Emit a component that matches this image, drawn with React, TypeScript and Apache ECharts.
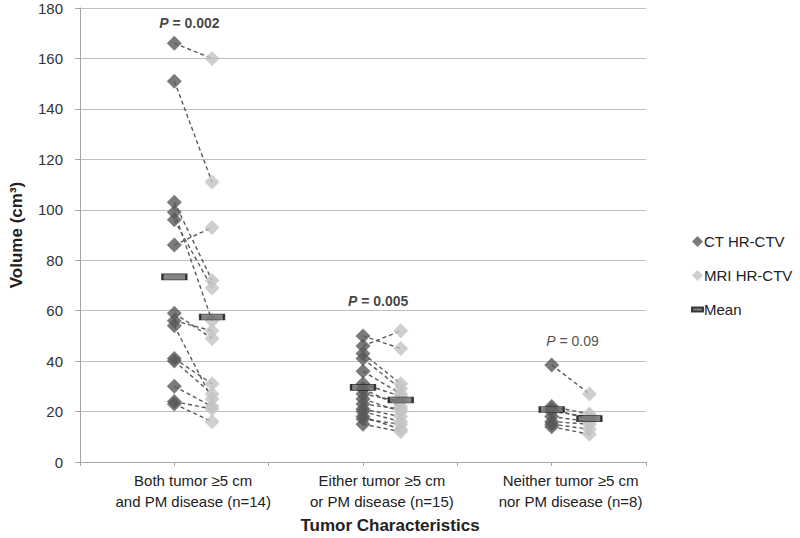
import React, { useEffect, useRef } from "react";
import * as echarts from "echarts";

// ---- data ----
const categories = [
  "Both tumor ≥5 cm\nand PM disease (n=14)",
  "Either tumor ≥5 cm\nor PM disease (n=15)",
  "Neither tumor ≥5 cm\nnor PM disease (n=8)",
];
const ctGroup1 = [166, 151, 103, 99, 96, 86, 59, 56, 54, 41, 40, 30, 24, 23];
const mriGroup1 = [160, 111, 72, 56, 69, 93, 49, 52, 25, 31, 27, 22, 21, 16];
const ctGroup2 = [50, 46, 43, 41, 36, 31, 29, 27, 25, 23, 21, 20, 18, 17, 15];
const mriGroup2 = [45, 52, 31, 29, 27, 26, 22, 24, 20, 21, 18, 16, 13, 15, 12];
const ctGroup3 = [38.5, 22, 21, 20, 18, 16, 15, 14];
const mriGroup3 = [27, 19, 17, 18, 16, 15, 13, 11];
const ctMeans = [73.4, 29.6, 20.8];
const mriMeans = [57.5, 24.6, 17.2];
const pValues = ["0.002", "0.005", "0.09"];
const pBold = [true, true, false];
const pLabelY = [174, 64, 48];
const yTicks = { min: 0, max: 180, interval: 20 };

const FONT = "Liberation Sans, Arial, sans-serif";
const groupX = [1, 3, 5];
const mriShift = 0.4;
const labelShift = 0.2;
const pShift = [0.16, 0.16, 0.22];

export default function App() {
  const ref = useRef<HTMLDivElement>(null);
  useEffect(() => {
    if (!ref.current) return;
    const chart = echarts.init(ref.current, null, { renderer: "svg" });
    const ct = [ctGroup1, ctGroup2, ctGroup3];
    const mri = [mriGroup1, mriGroup2, mriGroup3];
    const ctData: number[][] = [];
    const mriData: number[][] = [];
    const pairs: any[] = [];
    ct.forEach((arr, g) => {
      arr.forEach((v, i) => {
        const m = mri[g][i];
        ctData.push([groupX[g], v]);
        mriData.push([groupX[g] + mriShift, m]);
        pairs.push({ coords: [[groupX[g], v], [groupX[g] + mriShift, m]] });
      });
    });
    const meanData: number[][] = [];
    groupX.forEach((x, g) => {
      meanData.push([x, ctMeans[g]]);
      meanData.push([x + mriShift, mriMeans[g]]);
    });
    const pData = groupX.map((x, g) => ({
      value: [x + pShift[g], pLabelY[g]],
      label: {
        show: true,
        position: "inside",
        formatter: pBold[g] ? `{bi|P}{b| = ${pValues[g]}}` : `{i|P}{n| = ${pValues[g]}}`,
        rich: {
          bi: { fontFamily: FONT, fontSize: 14, fontWeight: "bold", fontStyle: "italic", color: "#111" },
          b: { fontFamily: FONT, fontSize: 14, fontWeight: "bold", color: "#111" },
          i: { fontFamily: FONT, fontSize: 14, fontStyle: "italic", color: "#222" },
          n: { fontFamily: FONT, fontSize: 14, color: "#222" },
        },
      },
    }));
    const labelPositions = groupX.map((x) => x + labelShift);

    chart.setOption({
      animation: false,
      backgroundColor: "#fff",
      textStyle: { fontFamily: FONT },
      grid: { left: 77, right: 154, top: 8, bottom: 76, containLabel: false },
      legend: {
        orient: "vertical",
        left: 686,
        top: 229,
        itemGap: 19,
        itemWidth: 11,
        itemHeight: 11,
        textStyle: { fontFamily: FONT, fontSize: 15, color: "#222", padding: [0, 0, 0, -4] },
        data: [
          { name: "CT HR-CTV", icon: "diamond" },
          { name: "MRI HR-CTV", icon: "diamond" },
          { name: "Mean", icon: "path://M0,3 L14,3 L14,8 L0,8 Z" },
        ],
      },
      xAxis: [
        {
          type: "value",
          min: 0,
          max: 6,
          interval: 1,
          position: "bottom",
          axisLine: { show: true, onZero: false, lineStyle: { color: "#a6a6a6", width: 1 } },
          axisTick: { show: true, length: 4, lineStyle: { color: "#a6a6a6" } },
          axisLabel: { show: false },
          splitLine: { show: false },
        },
        {
          type: "value",
          min: 0,
          max: 6,
          interval: 0.2,
          position: "bottom",
          axisLine: { show: false },
          axisTick: { show: false },
          splitLine: { show: false },
          axisLabel: {
            show: true,
            interval: 0,
            margin: 8,
            fontFamily: FONT,
            fontSize: 15,
            lineHeight: 21,
            color: "#222",
            hideOverlap: false,
            formatter: (v: number) => {
              const idx = labelPositions.findIndex((p) => Math.abs(p - v) < 1e-6);
              return idx >= 0 ? categories[idx] : "";
            },
          },
        },
      ],
      yAxis: {
        type: "value",
        min: yTicks.min,
        max: yTicks.max,
        interval: yTicks.interval,
        name: "Volume (cm³)",
        nameLocation: "middle",
        nameGap: 55,
        nameRotate: 90,
        nameTextStyle: { fontFamily: FONT, fontSize: 17, fontWeight: "bold", color: "#222" },
        axisLine: { show: true, lineStyle: { color: "#a6a6a6", width: 1 } },
        axisTick: { show: true, length: 5, lineStyle: { color: "#a6a6a6" } },
        axisLabel: { fontFamily: FONT, fontSize: 15, color: "#333", margin: 17 },
        splitLine: { show: true, lineStyle: { color: "#bfbfbf", width: 1 } },
      },
      graphic: [
        {
          type: "text",
          x: 390,
          y: 525,
          style: {
            text: "Tumor Characteristics",
            fontFamily: FONT,
            fontSize: 17,
            fontWeight: "bold",
            fill: "#222",
            textAlign: "center",
            textVerticalAlign: "middle",
          },
        },
      ],
      series: [
        {
          type: "lines",
          coordinateSystem: "cartesian2d",
          silent: true,
          z: 1,
          lineStyle: { color: "#595959", width: 1.4, type: [4, 3], opacity: 1 },
          data: pairs,
        },
        {
          name: "CT HR-CTV",
          type: "scatter",
          symbol: "diamond",
          symbolSize: 15,
          z: 2,
          itemStyle: { color: "#595959" },
          data: ctData,
        },
        {
          name: "MRI HR-CTV",
          type: "scatter",
          symbol: "diamond",
          symbolSize: 15,
          z: 2,
          itemStyle: { color: "#c3c3c3" },
          data: mriData,
        },
        {
          name: "Mean",
          type: "scatter",
          symbol: "rect",
          symbolSize: [24, 6],
          z: 3,
          itemStyle: { color: "#666666", borderColor: "#111", borderWidth: 1.2 },
          data: meanData,
        },
        {
          type: "scatter",
          symbolSize: 0,
          silent: true,
          z: 4,
          data: pData,
        },
      ],
    });
    return () => chart.dispose();
  }, []);
  return <div ref={ref} style={{ width: 800, height: 538, position: "absolute", left: 0, top: 0 }} />;
}
